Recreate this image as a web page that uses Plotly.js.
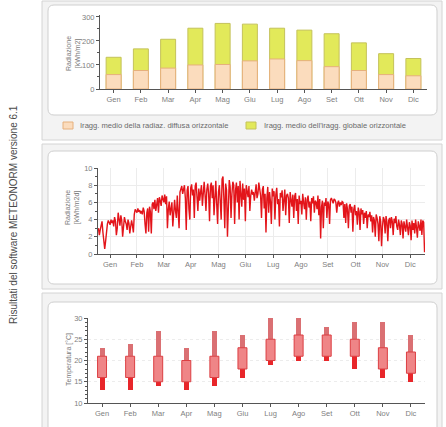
<!DOCTYPE html>
<html><head><meta charset="utf-8">
<script src="https://cdn.plot.ly/plotly-3.0.1.min.js"></script>
<style>html,body{margin:0;padding:0;background:#fff;}#chart{width:446px;height:427px;}</style>
</head><body><div id="chart"></div>
<script>
const months = ['Gen','Feb','Mar','Apr','Mag','Giu','Lug','Ago','Set','Ott','Nov','Dic'];
const diffuseRad = [60, 77, 87, 100, 102, 117, 125, 118, 93, 77, 60, 55];
const globalRad = [132, 167, 207, 253, 273, 270, 253, 245, 230, 192, 147, 127];
const dailyRad = [
3.0,2.2,2.8,3.6,3.8,2.5,1.2,0.6,1.5,2.8,3.5,3.9,3.7,3.4,4.0,3.6,3.9,3.2,4.3,3.8,2.2,3.0,4.8,4.1,3.3,4.5,3.9,2.0,3.6,4.3,3.8,
3.5,2.8,4.0,3.6,2.4,3.2,3.9,3.3,2.5,4.6,5.2,5.0,4.8,5.3,4.9,5.1,4.7,5.0,4.6,5.4,5.0,3.5,2.4,4.8,5.3,2.6,5.5,4.9,
2.4,5.8,6.0,5.2,6.3,5.0,6.1,6.5,4.8,6.6,6.2,5.6,6.8,6.4,6.0,6.9,5.8,6.7,3.0,5.2,6.1,4.5,5.4,6.0,3.2,5.6,6.3,5.0,4.2,6.8,5.1,
3.0,7.2,7.6,7.9,7.0,7.8,8.0,6.5,2.8,7.4,7.9,5.2,4.0,7.7,8.1,6.8,7.5,4.2,7.9,8.3,7.1,5.0,7.6,6.2,7.2,8.0,5.6,7.5,8.4,6.9,
5.0,7.5,8.2,7.0,3.8,7.9,8.3,6.5,8.0,4.5,7.6,8.5,5.8,3.5,7.2,8.0,6.0,4.0,8.7,9.0,6.5,3.0,8.2,7.4,2.0,5.5,8.6,7.8,4.2,7.0,8.4,
8.0,3.5,7.4,8.3,6.0,7.9,4.0,8.5,7.0,5.5,8.2,6.3,7.6,3.8,8.0,7.3,6.6,7.9,5.0,6.8,7.5,6.9,7.2,6.2,7.8,8.1,6.5,7.0,8.3,7.4,
6.8,4.2,7.5,7.9,5.3,7.0,2.5,6.5,7.8,4.8,7.2,6.1,3.5,7.6,6.7,7.3,4.0,6.9,7.7,5.8,6.4,3.2,7.1,6.6,7.4,5.0,6.2,7.5,4.5,6.8,7.0,
6.5,3.6,7.2,6.3,5.5,6.9,4.2,6.7,7.1,5.0,6.4,3.5,6.8,5.8,6.2,4.6,7.0,6.0,5.2,6.6,4.0,6.3,6.8,5.4,6.1,3.8,6.5,5.9,6.7,4.8,6.2,
6.0,5.2,6.8,4.5,6.4,1.8,5.5,6.2,3.0,6.0,5.6,6.5,4.2,6.1,5.8,3.5,6.3,6.5,6.2,5.9,6.4,6.3,6.0,4.8,5.9,6.2,5.5,6.0,5.7,6.1,
6.0,4.2,5.8,3.6,5.9,5.2,3.0,5.6,5.8,4.8,5.5,2.6,5.2,5.7,4.5,5.0,3.4,5.4,4.9,2.8,5.3,4.6,5.1,3.5,4.8,4.2,5.0,3.0,4.6,4.3,4.9,
3.8,4.5,2.5,4.3,3.9,2.0,4.6,4.2,3.5,1.5,4.4,3.8,0.9,3.2,4.3,4.0,2.4,4.4,3.7,1.5,3.9,4.2,3.0,4.3,3.8,2.2,4.1,3.6,4.4,3.2,
2.8,4.0,3.4,2.2,3.9,3.5,1.8,3.8,3.2,2.6,4.0,3.0,2.2,3.7,3.3,1.6,3.9,2.8,3.6,2.4,4.0,3.1,1.9,3.8,3.4,2.7,4.0,2.2,3.9,3.7,0.2
];
const monthTickDays = [14, 44, 74, 104, 135, 165, 196, 227, 257, 288, 318, 349];
const tMin = [13, 13, 14, 13, 14, 16, 19, 20, 20, 18, 16, 15];
const tQ1  = [16, 16, 15, 15, 16, 18, 20, 21, 21, 21, 18, 17];
const tQ3  = [21, 21, 21, 20, 21, 23, 25, 26, 26, 25, 23, 22];
const tMax = [23, 24, 27, 23, 27, 26, 30, 30, 28, 29, 29, 26];
const legendLabels = ['Iragg. medio della radiaz. diffusa orizzontale', "Iragg. medio dell'iragg. globale orizzontale"];
const sideTitle = 'Risultati del software METEONORM versione 6.1';

const W = 446, H = 427;
const fx = p => p / W, fy = p => 1 - p / H;
const days = dailyRad.map((_, i) => i + 1);

const traces = [
  {type:'bar', x:months, y:globalRad, xaxis:'x', yaxis:'y', width:0.55, name:legendLabels[1],
   marker:{color:'#e2e95a', line:{color:'#c4c25a', width:1}}, showlegend:false, hoverinfo:'y'},
  {type:'bar', x:months, y:diffuseRad, xaxis:'x', yaxis:'y', width:0.55, name:legendLabels[0],
   marker:{color:'#fbdcbd', line:{color:'#e6b07c', width:1}}, showlegend:false, hoverinfo:'y'},
  {type:'scatter', mode:'lines', x:days, y:dailyRad, xaxis:'x2', yaxis:'y2',
   line:{color:'#e3141a', width:1.4}, showlegend:false},
  {type:'bar', x:months, base:tMin, y:tQ1.map((v,i)=>v-tMin[i]), xaxis:'x3', yaxis:'y3', width:0.18,
   marker:{color:'#e8262a', line:{width:0}}, showlegend:false},
  {type:'bar', x:months, base:tQ3, y:tMax.map((v,i)=>v-tQ3[i]), xaxis:'x3', yaxis:'y3', width:0.18,
   marker:{color:'#da7073', line:{width:0}}, showlegend:false},
  {type:'bar', x:months, base:tQ1, y:tQ3.map((v,i)=>v-tQ1[i]), xaxis:'x3', yaxis:'y3', width:0.32,
   marker:{color:'#ef8587', line:{color:'#dc3f43', width:1}}, showlegend:false}
];

const tickFont = {family:'Liberation Sans, Arial', size:7.5, color:'#808080'};
const axBase = {showline:true, linecolor:'#555', linewidth:1, ticks:'outside', ticklen:3, tickcolor:'#555',
  tickfont:tickFont, zeroline:false, fixedrange:true};

function rrect(x0,y0,x1,y1,r){
  const rx=r/W, ry=r/H;
  const X0=fx(x0),X1=fx(x1),Y0=fy(y0),Y1=fy(y1);
  return `M${X0+rx},${Y0} L${X1-rx},${Y0} Q${X1},${Y0} ${X1},${Y0-ry} L${X1},${Y1+ry} Q${X1},${Y1} ${X1-rx},${Y1} L${X0+rx},${Y1} Q${X0},${Y1} ${X0},${Y1+ry} L${X0},${Y0-ry} Q${X0},${Y0} ${X0+rx},${Y0} Z`;
}
function rect(x0,y0,x1,y1,fill,line){
  return {type:'rect', xref:'paper', yref:'paper', x0:fx(x0), x1:fx(x1), y0:fy(y1), y1:fy(y0),
    fillcolor:fill, line:{color:line, width:1}, layer:'below'};
}
function rpath(x0,y0,x1,y1,r){
  return {type:'path', xref:'paper', yref:'paper', path:rrect(x0,y0,x1,y1,r), fillcolor:'#ffffff',
    line:{color:'#cfcfcf', width:1}, layer:'below'};
}

const shapes = [
  rect(42,1,442,140,'#f3f3f3','#d4d4d4'),
  rpath(48,5,437,115,6),
  rect(42,144,442,289,'#f3f3f3','#d4d4d4'),
  rpath(48,151,437,284,6),
  rect(42,293,442,440,'#f3f3f3','#d4d4d4'),
  rpath(48,302,437,440,6),
  {type:'rect', xref:'paper', yref:'paper', x0:fx(63), x1:fx(73), y0:fy(129), y1:fy(122), fillcolor:'#fbdcbd', line:{color:'#e6b07c',width:1}},
  {type:'rect', xref:'paper', yref:'paper', x0:fx(246), x1:fx(256), y0:fy(129), y1:fy(122), fillcolor:'#e2e95a', line:{color:'#c4c25a',width:1}}
];

const annFont = {family:'Liberation Sans, Arial', size:7, color:'#7a7a7a'};
const legFont = {family:'Liberation Sans, Arial', size:7.6, color:'#6a6a6a'};
const annotations = [
  {xref:'paper', yref:'paper', x:fx(73), y:fy(54), text:'Radiazione<br>[kWh/m2]', textangle:-90, showarrow:false, font:annFont, xanchor:'center', yanchor:'middle'},
  {xref:'paper', yref:'paper', x:fx(72), y:fy(208), text:'Radiazione<br>[kWh/m2d]', textangle:-90, showarrow:false, font:annFont, xanchor:'center', yanchor:'middle'},
  {xref:'paper', yref:'paper', x:fx(69), y:fy(360), text:'Temperatura [°C]', textangle:-90, showarrow:false, font:annFont, xanchor:'center', yanchor:'middle'},
  {xref:'paper', yref:'paper', x:fx(78), y:fy(125.5), text:legendLabels[0], showarrow:false, font:legFont, xanchor:'left', yanchor:'middle'},
  {xref:'paper', yref:'paper', x:fx(262), y:fy(125.5), text:legendLabels[1], showarrow:false, font:legFont, xanchor:'left', yanchor:'middle'},
  {xref:'paper', yref:'paper', x:fx(13), y:fy(215), text:sideTitle, textangle:-90, showarrow:false, font:{family:'Liberation Sans, Arial', size:10, color:'#4a4a4a'}, xanchor:'center', yanchor:'middle'}
];

const layout = {
  width:W, height:H, margin:{l:0,r:0,t:0,b:0}, paper_bgcolor:'#ffffff', plot_bgcolor:'rgba(0,0,0,0)',
  barmode:'overlay', showlegend:false, bargap:0,
  xaxis: Object.assign({}, axBase, {domain:[fx(100), fx(427)], anchor:'y', type:'category', range:[-0.5,11.5], showgrid:false}),
  yaxis: Object.assign({}, axBase, {domain:[fy(89), fy(15)], anchor:'x', range:[0,308], tickvals:[0,100,200,300], showgrid:false,
    minor:{ticks:'outside', ticklen:2, dtick:50, tickcolor:'#555'}}),
  xaxis2: Object.assign({}, axBase, {domain:[fx(98), fx(425)], anchor:'y2', range:[0.5,365.5], tickvals:monthTickDays, ticktext:months,
    showgrid:true, gridcolor:'#ececec', gridwidth:1}),
  yaxis2: Object.assign({}, axBase, {domain:[fy(254), fy(168)], anchor:'x2', range:[0,10], dtick:2, showgrid:true, gridcolor:'#ececec',
    minor:{ticks:'outside', ticklen:2, dtick:1, tickcolor:'#555'}}),
  xaxis3: Object.assign({}, axBase, {domain:[fx(88), fx(425)], anchor:'y3', type:'category', range:[-0.5,11.5], showgrid:false}),
  yaxis3: Object.assign({}, axBase, {domain:[fy(403), fy(318)], anchor:'x3', range:[10,30], dtick:5, showgrid:true, gridcolor:'#ececec', griddash:'dot',
    minor:{ticks:'outside', ticklen:2, dtick:1, tickcolor:'#555'}}),
  shapes: shapes, annotations: annotations
};

Plotly.newPlot('chart', traces, layout, {staticPlot:true, displayModeBar:false});
</script>
</body></html>
